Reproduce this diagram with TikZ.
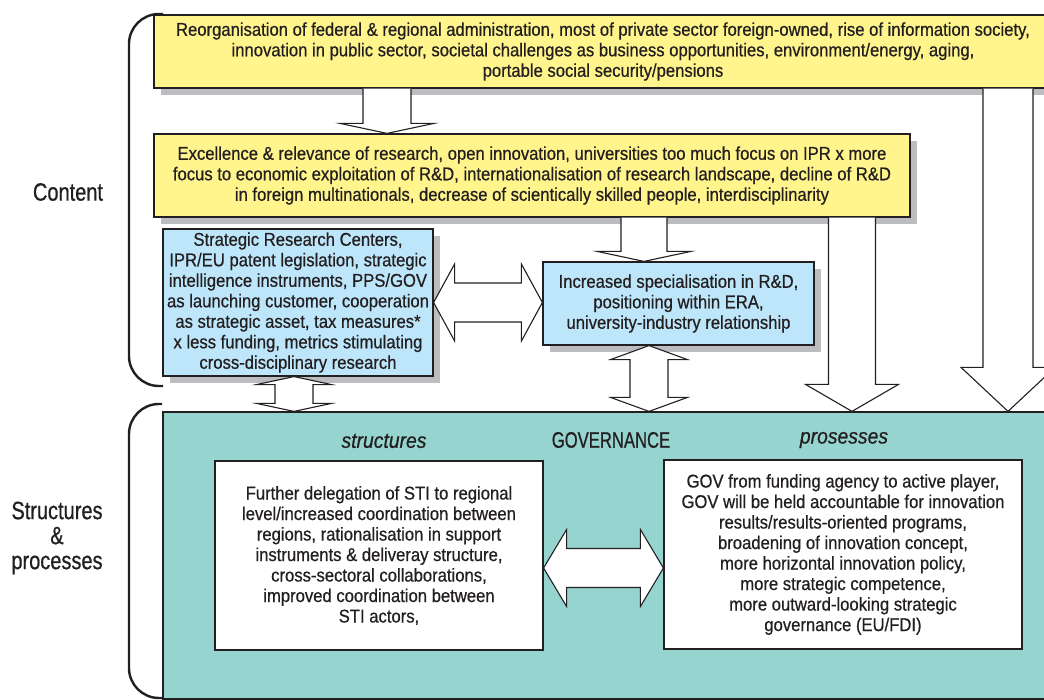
\documentclass[tikz,border=0pt]{standalone}
\usepackage{fontspec}
\setmainfont{Liberation Sans}[FakeStretch=0.9,FakeBold=0.6]
\newfontfamily\condA{Liberation Sans}[FakeStretch=0.74,FakeBold=0.7]
\newfontfamily\condB{Liberation Sans}[FakeStretch=0.8,FakeBold=0.7]
\usetikzlibrary{calc,shadows}
\definecolor{ylw}{RGB}{255,245,140}
\definecolor{blu}{RGB}{190,230,250}
\definecolor{tealbg}{RGB}{150,212,208}
\definecolor{shd}{RGB}{188,189,193}
\definecolor{ink}{RGB}{35,31,32}
\tikzset{
  box/.style={draw=ink, line width=1.2pt, align=center, inner sep=0pt,
    font=\fontsize{18.5}{20.5}\selectfont, text=ink},
  shadowed/.style={drop shadow={shadow xshift=7pt, shadow yshift=-7pt, fill=shd, opacity=1}},
  blk/.style={draw=ink, fill=white, line width=1.1pt, line join=miter},
  bracket/.style={draw=ink, line width=2.4pt, rounded corners=30pt},
  lbl/.style={font=\condB\fontsize{25}{25}\selectfont, text=ink, align=center},
  head/.style={font=\condA\fontsize{22.5}{24}\selectfont, text=ink},
  ihead/.style={font=\fontsize{21.5}{24}\selectfont\itshape, text=ink},
}
\newcommand\blkdown[5]{%
  \draw[blk] let \p1=(#1), \p2=(#2) in
  (\x2-#3,\y1) -- (\x2-#3,\y2+#5) -- (\x2-#4,\y2+#5) -- (\x2,\y2) -- (\x2+#4,\y2+#5) -- (\x2+#3,\y2+#5) -- (\x2+#3,\y1);}
\newcommand\blkvv[5]{%
  \draw[blk] let \p1=(#1), \p2=(#2) in
  (\x1,\y1) -- (\x1+#4,\y1-#5) -- (\x1+#3,\y1-#5) -- (\x1+#3,\y2+#5) -- (\x1+#4,\y2+#5) -- (\x1,\y2)
  -- (\x1-#4,\y2+#5) -- (\x1-#3,\y2+#5) -- (\x1-#3,\y1-#5) -- (\x1-#4,\y1-#5) -- cycle;}
\newcommand\blkhh[5]{%
  \draw[blk] let \p1=(#1), \p2=(#2) in
  (\x1,\y1) -- (\x1+#5,\y1+#4) -- (\x1+#5,\y1+#3) -- (\x2-#5,\y1+#3) -- (\x2-#5,\y1+#4) -- (\x2,\y1)
  -- (\x2-#5,\y1-#4) -- (\x2-#5,\y1-#3) -- (\x1+#5,\y1-#3) -- (\x1+#5,\y1-#4) -- cycle;}
\begin{document}
\begin{tikzpicture}[x=1pt,y=1pt]
\useasboundingbox (0,0) rectangle (1044,700);
\clip (0,0) rectangle (1044,700);
% brackets
\draw[bracket] (163,686) -- (129,686) -- (129,314) -- (163,314);
\draw[bracket] (162,296) -- (129,296) -- (129,2) -- (162,2);
\node[lbl] (lcontent) at (68,508) {Content};
\node[lbl] (lstruct) at (57,162) {Structures\\\&\\processes};
% boxes
\node[box, shadowed, fill=ylw, minimum width=898, minimum height=73] (top) at (603,648.5)
 {Reorganisation of federal \& regional administration, most of private sector foreign-owned, rise of information society,\\
  innovation in public sector, societal challenges as business opportunities, environment/energy, aging,\\
  portable social security/pensions};
\node[box, shadowed, fill=ylw, minimum width=756, minimum height=83] (sec) at (532,524.5)
 {Excellence \& relevance of research, open innovation, universities too much focus on IPR x more\\
  focus to economic exploitation of R\&D, internationalisation of research landscape, decline of R\&D\\
  in foreign multinationals, decrease of scientically skilled people, interdisciplinarity};
\node[box, shadowed, fill=blu, minimum width=270, minimum height=147] (lb) at (298,397.5)
 {Strategic Research Centers,\\ IPR/EU patent legislation, strategic\\ intelligence instruments, PPS/GOV\\
  as launching customer, cooperation\\ as strategic asset, tax measures*\\ x less funding, metrics stimulating\\
  cross-disciplinary research};
\node[box, shadowed, fill=blu, minimum width=271, minimum height=83] (rb) at (678.5,396.5)
 {Increased specialisation in R\&D,\\ positioning within ERA,\\ university-industry relationship};
\node[box, fill=tealbg, minimum width=897, minimum height=287] (teal) at (611.5,144.5) {};
\node[ihead] (hstruct) at (384,259) {structures};
\node[head] (hgov) at (611,260) {GOVERNANCE};
\node[ihead] (hproc) at (844,260) {prosesses};
\node[box, fill=white, minimum width=328, minimum height=189] (sbox) at (379,144.5)
 {Further delegation of STI to regional\\ level/increased coordination between\\ regions, rationalisation in support\\
  instruments \& deliveray structure,\\ cross-sectoral collaborations,\\ improved coordination between\\ STI actors,};
\node[box, fill=white, minimum width=358, minimum height=189] (pbox) at (843,145.5)
 {GOV from funding agency to active player,\\ GOV will be held accountable for innovation\\
  results/results-oriented programs,\\ broadening of innovation concept,\\ more horizontal innovation policy,\\
  more strategic competence,\\ more outward-looking strategic\\ governance (EU/FDI)};
% arrow axes
\coordinate (a1x) at (387,0);
\coordinate (a2x) at (644,0);
\coordinate (a3x) at (1008,0);
\coordinate (a4x) at (852,0);
\coordinate (vrx) at (649,0);
\coordinate (vlx) at (294,0);
\coordinate (hly) at (0,132);
% block arrows
\blkdown{top.south -| a1x}{sec.north -| a1x}{24pt}{47pt}{10pt}
\blkdown{sec.south -| a2x}{rb.north -| a2x}{23pt}{47pt}{10pt}
\blkdown{top.south -| a3x}{teal.north -| a3x}{25pt}{47pt}{44pt}
\blkdown{sec.south -| a4x}{teal.north -| a4x}{23.5pt}{46.5pt}{27pt}
\blkvv{rb.south -| vrx}{teal.north -| vrx}{19pt}{38.5pt}{14pt}
\blkvv{lb.south -| vlx}{teal.north -| vlx}{19pt}{37.5pt}{8pt}
\blkhh{lb.east}{rb.west}{19.5pt}{38.5pt}{21pt}
\blkhh{sbox.east |- hly}{pbox.west |- hly}{19.5pt}{38.5pt}{23pt}
\end{tikzpicture}
\end{document}
